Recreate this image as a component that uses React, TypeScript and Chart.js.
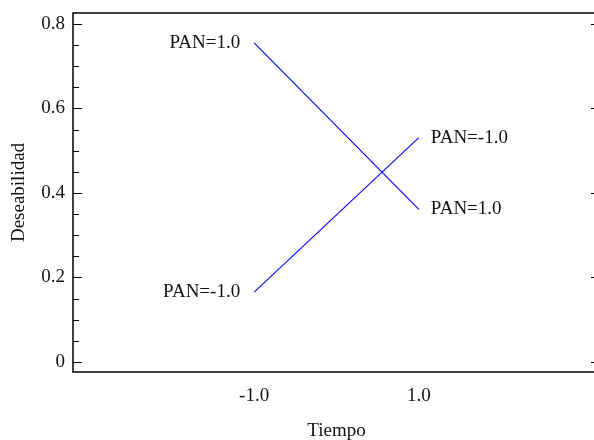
import React, { useEffect, useRef } from "react";
import { Chart, registerables } from "chart.js";

Chart.register(...registerables);

const xValues = [-1, 1];
const pan1 = [0.755, 0.361];
const panNeg1 = [0.165, 0.531];
const seriesLabels = ["PAN=1.0", "PAN=-1.0"];
const xTickValues = [-1, 1];
const yTickValues = [0, 0.2, 0.4, 0.6, 0.8];
const yMinorTicks = [0.05, 0.1, 0.15, 0.25, 0.3, 0.35, 0.45, 0.5, 0.55, 0.65, 0.7, 0.75];
const xTitle = "Tiempo";
const yTitle = "Deseabilidad";

const FONT = '"Liberation Serif", "DejaVu Serif", serif';
const FONT_SIZE = 19;
const TEXT = "#111";
const LINE = "#0000ff";

const framePlugin = {
  id: "frame",
  afterDraw(chart: any) {
    const { ctx, chartArea: a, scales } = chart;
    const y = scales.y;
    ctx.save();
    ctx.strokeStyle = "#000";
    ctx.lineWidth = 1.5;
    ctx.beginPath();
    ctx.moveTo(a.left, a.top);
    ctx.lineTo(a.right, a.top);
    ctx.lineTo(a.right, a.bottom);
    ctx.lineTo(a.left, a.bottom);
    ctx.closePath();
    ctx.stroke();
    ctx.lineWidth = 1.2;
    ctx.beginPath();
    yTickValues.forEach((v) => {
      const p = Math.round(y.getPixelForValue(v)) + 0.5;
      ctx.moveTo(a.left, p);
      ctx.lineTo(a.left + 9, p);
      ctx.moveTo(a.right, p);
      ctx.lineTo(a.right - 9, p);
    });
    yMinorTicks.forEach((v) => {
      const p = Math.round(y.getPixelForValue(v)) + 0.5;
      ctx.moveTo(a.left, p);
      ctx.lineTo(a.left + 6, p);
    });
    ctx.stroke();

    ctx.font = `${FONT_SIZE}px ${FONT}`;
    ctx.fillStyle = TEXT;
    ctx.textBaseline = "middle";
    chart.data.datasets.forEach((ds: any, i: number) => {
      const meta = chart.getDatasetMeta(i);
      const first = meta.data[0];
      const last = meta.data[meta.data.length - 1];
      ctx.textAlign = "right";
      ctx.fillText(seriesLabels[i], first.x - 14, first.y);
      ctx.textAlign = "left";
      ctx.fillText(seriesLabels[i], last.x + 12, last.y);
    });
    ctx.restore();
  },
};

export default function App() {
  const ref = useRef<HTMLCanvasElement | null>(null);
  useEffect(() => {
    if (!ref.current) return;
    const chart = new Chart(ref.current, {
      type: "line",
      data: {
        datasets: [
          {
            label: seriesLabels[0],
            data: xValues.map((x, i) => ({ x, y: pan1[i] })),
            borderColor: LINE,
            borderWidth: 1.1,
            pointRadius: 0,
            tension: 0,
          },
          {
            label: seriesLabels[1],
            data: xValues.map((x, i) => ({ x, y: panNeg1[i] })),
            borderColor: LINE,
            borderWidth: 1.1,
            pointRadius: 0,
            tension: 0,
          },
        ],
      },
      options: {
        animation: false,
        responsive: true,
        maintainAspectRatio: false,
        layout: { padding: { top: 13, right: 0, left: 0, bottom: 0 } },
        plugins: { legend: { display: false }, tooltip: { enabled: false } },
        scales: {
          x: {
            type: "linear",
            min: -3.2,
            max: 3.2,
            afterBuildTicks: (s: any) => {
              s.ticks = xTickValues.map((v) => ({ value: v }));
            },
            afterFit: (s: any) => {
              s.height = 68;
              s.paddingLeft = 0;
              s.paddingRight = 0;
            },
            grid: { display: false, drawTicks: false },
            border: { display: false },
            ticks: {
              autoSkip: false,
              maxRotation: 0,
              padding: 13,
              color: TEXT,
              font: { family: FONT, size: FONT_SIZE },
              callback: (v: any) => Number(v).toFixed(1),
            },
            title: {
              display: true,
              text: xTitle,
              color: TEXT,
              font: { family: FONT, size: FONT_SIZE },
              padding: { top: 0, bottom: -2 },
            },
          },
          y: {
            type: "linear",
            min: -0.024,
            max: 0.826,
            afterBuildTicks: (s: any) => {
              s.ticks = yTickValues.map((v) => ({ value: v }));
            },
            afterFit: (s: any) => {
              s.width = 73;
              s.paddingTop = 0;
              s.paddingBottom = 0;
            },
            grid: { display: false, drawTicks: false },
            border: { display: false },
            ticks: {
              autoSkip: false,
              padding: 8,
              color: TEXT,
              font: { family: FONT, size: FONT_SIZE },
              callback: (v: any) => String(Math.round(Number(v) * 10) / 10),
            },
            title: {
              display: true,
              text: yTitle,
              color: TEXT,
              font: { family: FONT, size: FONT_SIZE },
              padding: { top: 8, bottom: 0 },
            },
          },
        },
      },
      plugins: [framePlugin],
    });
    return () => chart.destroy();
  }, []);
  return (
    <div style={{ position: "fixed", left: 0, top: 0, width: 600, height: 440, background: "#fff" }}>
      <canvas ref={ref} />
    </div>
  );
}
